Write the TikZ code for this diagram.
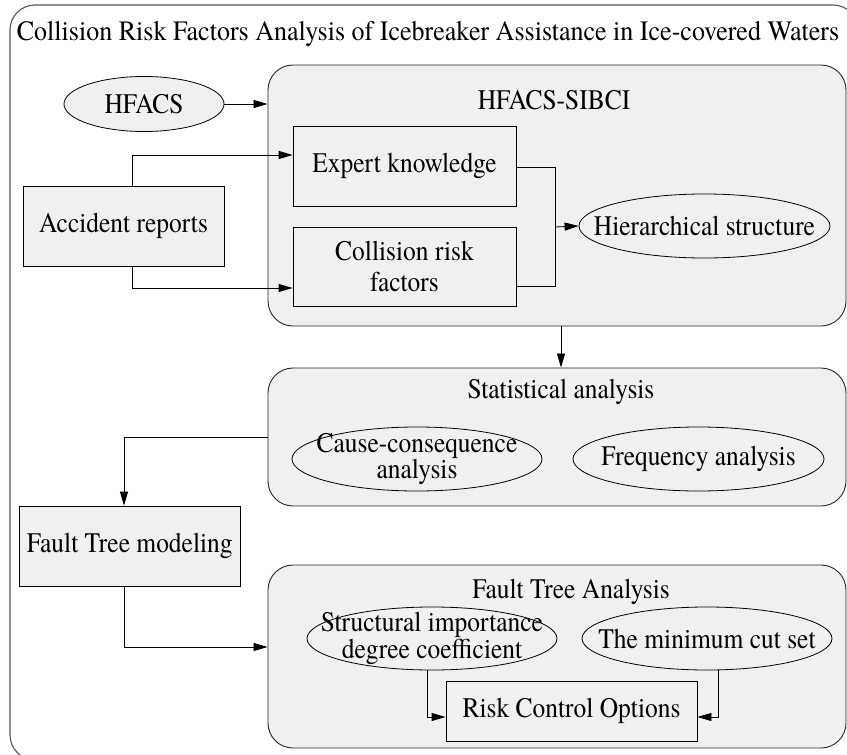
\documentclass[tikz,border=0pt]{standalone}
\usepackage{fontspec}
\setmainfont{TeX Gyre Termes}[FakeStretch=0.9]
\newfontfamily\titlefont{TeX Gyre Termes}[FakeStretch=0.93]
\usetikzlibrary{shapes.geometric,arrows.meta}
\definecolor{fillg}{HTML}{F0F0F0}
\definecolor{outerc}{HTML}{555555}
\tikzset{
  lbl/.style={font=\fontsize{28.3}{28.3}\selectfont, align=center, inner sep=0pt},
  lbltwo/.style={font=\fontsize{28.3}{21.7}\selectfont, align=center, inner sep=0pt},
  box/.style={draw=black, line width=0.8pt, fill=fillg, rectangle, inner sep=0pt},
  oval/.style={draw=black, line width=0.8pt, fill=fillg, ellipse, inner sep=0pt},
  cluster/.style={draw=black!85, line width=0.9pt, fill=fillg, rectangle, rounded corners=25pt, inner sep=0pt},
  arr/.style={draw=black, line width=0.8pt, -{Triangle[length=14pt,width=8pt]}},
  con/.style={draw=black, line width=0.8pt}
}
\begin{document}
\begin{tikzpicture}[x=1pt,y=-1pt]
\useasboundingbox (0,0) rectangle (847,755);
\clip (0,0) rectangle (847,755);
\fill[white] (0,0) rectangle (847,755);
% outer frame
\draw[outerc, line width=1.1pt, rounded corners=25pt] (10,5) rectangle (858,760);
\node[font=\titlefont\fontsize{28}{28}\selectfont, inner sep=0pt] (title) at (428,34) {Collision Risk Factors Analysis of Icebreaker Assistance in Ice-covered Waters};

% clusters
\node[cluster, minimum width=578pt, minimum height=261pt] (c1) at (557,195.5) {};
\node[cluster, minimum width=578pt, minimum height=138pt] (c2) at (557,437) {};
\node[cluster, minimum width=578pt, minimum height=183pt] (c3) at (557,656.5) {};
\node[lbl] (c1t) at (554,100) {HFACS-SIBCI};
\node[lbl] (c2t) at (561,392) {Statistical analysis};
\node[lbl] (c3t) at (571,592) {Fault Tree Analysis};

% nodes
\node[oval, minimum width=160pt, minimum height=55pt] (hfacs) at (144,104) {};
\node[lbl] (hfacst) at (hfacs) {HFACS};
\node[box, minimum width=201pt, minimum height=80pt] (acc) at (123.5,226) {};
\node[lbl] (acct) at (acc) {Accident reports};
\node[box, minimum width=223pt, minimum height=80pt] (expert) at (404.5,166) {};
\node[lbl] (expertt) at (expert) {Expert knowledge};
\node[box, minimum width=223pt, minimum height=79pt] (coll) at (404.5,266.5) {};
\node[lbl, font=\fontsize{28.3}{31}\selectfont] (collt) at (coll) {Collision risk\\factors};
\node[oval, minimum width=251pt, minimum height=64pt] (hier) at (704.5,226) {};
\node[lbl] (hiert) at (hier) {Hierarchical structure};

\node[oval, minimum width=250pt, minimum height=64pt] (cause) at (417,459) {};
\node[lbltwo] (causet) at (cause) {Cause-consequence\\analysis};
\node[oval, minimum width=251pt, minimum height=64pt] (freq) at (698.5,459) {};
\node[lbl] (freqt) at (freq) {Frequency analysis};

\node[box, minimum width=220.5pt, minimum height=80pt] (ftm) at (129.75,546) {};
\node[lbl] (ftmt) at (ftm) {Fault Tree modeling};

\node[oval, minimum width=250pt, minimum height=63pt] (struct) at (432,638.5) {};
\node[lbltwo] (structt) at (struct) {Structural importance\\degree coefficient};
\node[oval, minimum width=250pt, minimum height=63pt] (cut) at (707,638.5) {};
\node[lbl] (cutt) at (cut) {The minimum cut set};
\node[box, minimum width=251pt, minimum height=60pt] (risk) at (571.5,711) {};
\node[lbl] (riskt) at (risk) {Risk Control Options};

\coordinate (j) at (555,227);

% connectors
\draw[arr] (hfacs.east) -- (hfacs.east -| c1.west);
\draw[arr] ([xshift=8.5pt]acc.north) |- ([yshift=11pt]expert.west);
\draw[arr] ([xshift=8.5pt]acc.south) |- ([yshift=-21.5pt]coll.west);
\draw[con] ([yshift=-1pt]expert.east) -| (j);
\draw[con] ([yshift=-19.5pt]coll.east) -| (j);
\draw[arr] (j) -- (hier.west);
\draw[arr] ([xshift=4pt]c1.south) -- ([xshift=4pt]c2.north);
\draw[arr] (c2.west) -| ([xshift=-5.75pt]ftm.north);
\draw[arr] ([xshift=-5.75pt]ftm.south) |- ([yshift=9.5pt]c3.west);
\draw[arr] ([xshift=-5pt]struct.south) |- ([yshift=-6pt]risk.west);
\draw[arr] ([xshift=11pt]cut.south) |- ([yshift=-6pt]risk.east);
\end{tikzpicture}
\end{document}
